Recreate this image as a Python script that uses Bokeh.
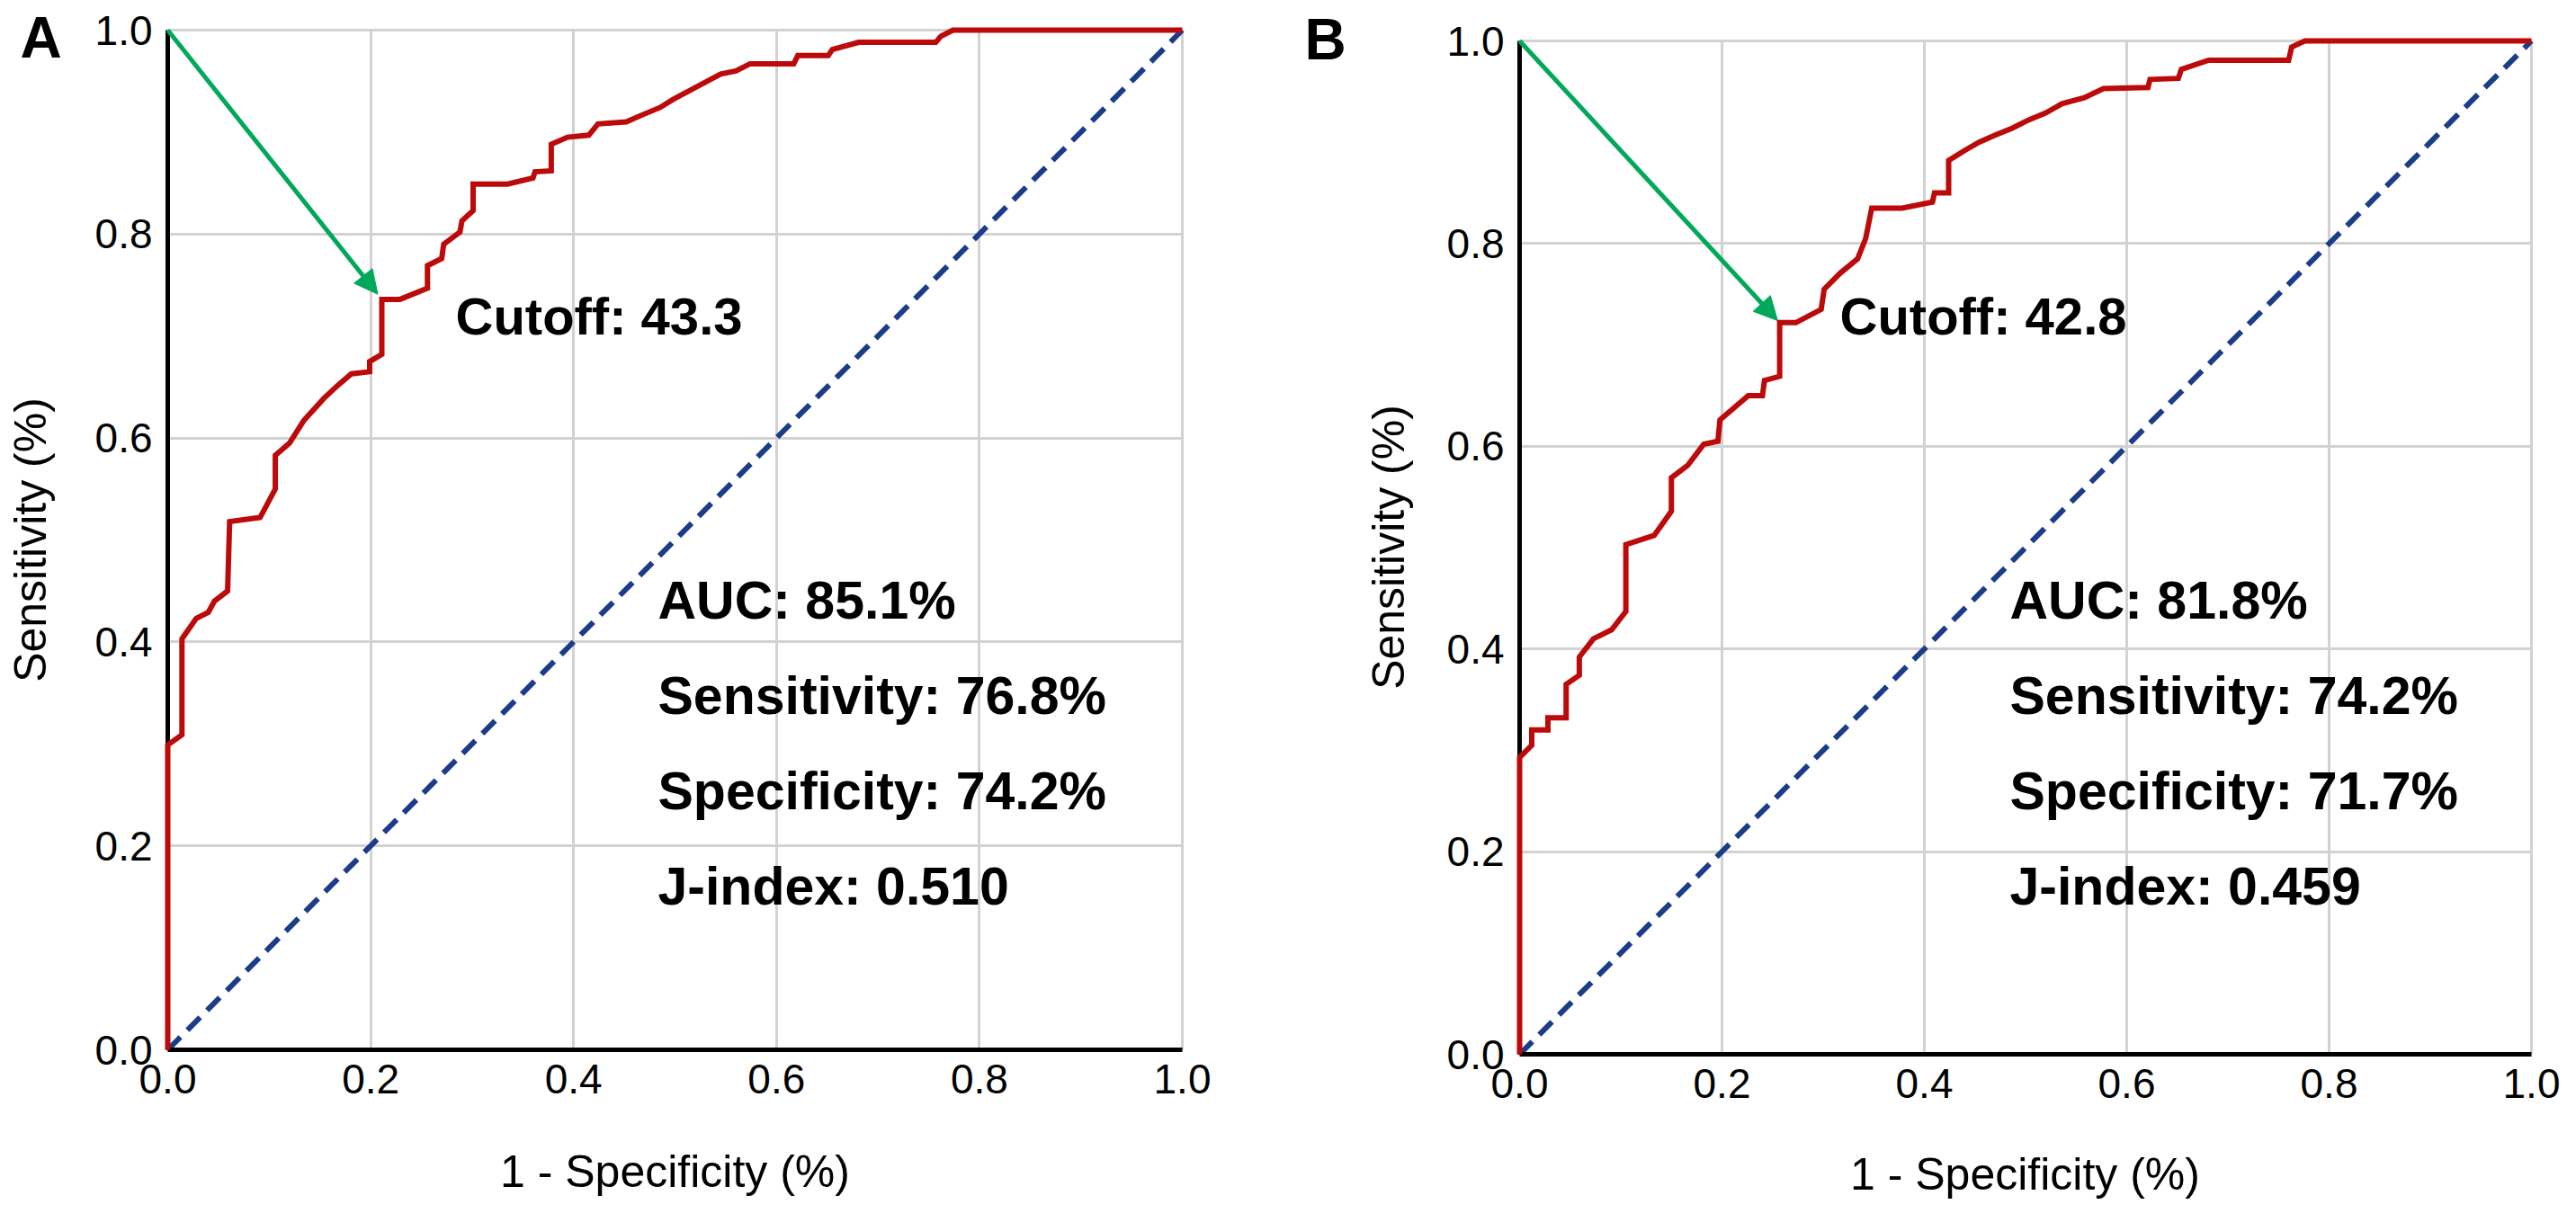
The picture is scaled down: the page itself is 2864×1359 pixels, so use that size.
import math
from bokeh.plotting import figure
from bokeh.models import Range1d, FixedTicker, Arrow, NormalHead, PrintfTickFormatter, Grid
from bokeh.layouts import row
from bokeh.embed import file_html
from bokeh.resources import INLINE
from bokeh.core.properties import value

# ---------------- data ----------------
TICKS = [0.0, 0.2, 0.4, 0.6, 0.8, 1.0]

a_fpr = [0.0, 0.0, 0.014, 0.014, 0.028, 0.040, 0.046, 0.059, 0.061, 0.091, 0.106, 0.106,
         0.120, 0.134, 0.154, 0.168, 0.181, 0.199, 0.199, 0.211, 0.211, 0.229, 0.256, 0.256,
         0.270, 0.272, 0.288, 0.290, 0.301, 0.301, 0.335, 0.360, 0.362, 0.378, 0.378, 0.394,
         0.415, 0.424, 0.452, 0.468, 0.485, 0.498, 0.515, 0.532, 0.545, 0.560, 0.574, 0.617,
         0.621, 0.651, 0.655, 0.681, 0.757, 0.762, 0.774, 1.0]
a_tpr = [0.0, 0.299, 0.309, 0.403, 0.423, 0.429, 0.440, 0.450, 0.518, 0.522, 0.550, 0.583,
         0.595, 0.617, 0.639, 0.652, 0.663, 0.665, 0.675, 0.682, 0.736, 0.736, 0.747, 0.769,
         0.776, 0.790, 0.802, 0.813, 0.823, 0.849, 0.849, 0.855, 0.861, 0.862, 0.888, 0.895,
         0.897, 0.908, 0.910, 0.917, 0.924, 0.932, 0.941, 0.950, 0.957, 0.960, 0.967, 0.967,
         0.975, 0.975, 0.981, 0.988, 0.988, 0.994, 1.0, 1.0]

b_fpr = [0.0, 0.0, 0.012, 0.012, 0.028, 0.028, 0.046, 0.046, 0.059, 0.059, 0.073, 0.091,
         0.105, 0.105, 0.133, 0.150, 0.150, 0.166, 0.182, 0.196, 0.198, 0.226, 0.240, 0.242,
         0.257, 0.257, 0.273, 0.298, 0.301, 0.317, 0.334, 0.342, 0.348, 0.378, 0.408, 0.410,
         0.424, 0.424, 0.440, 0.454, 0.470, 0.487, 0.503, 0.520, 0.536, 0.558, 0.577, 0.621,
         0.623, 0.651, 0.654, 0.681, 0.760, 0.763, 0.776, 1.0]
b_tpr = [0.0, 0.293, 0.305, 0.320, 0.320, 0.332, 0.332, 0.365, 0.374, 0.392, 0.410, 0.419,
         0.437, 0.503, 0.512, 0.536, 0.569, 0.581, 0.602, 0.605, 0.626, 0.650, 0.650, 0.665,
         0.669, 0.722, 0.722, 0.735, 0.755, 0.771, 0.785, 0.805, 0.835, 0.835, 0.841, 0.850,
         0.850, 0.882, 0.892, 0.900, 0.907, 0.914, 0.922, 0.929, 0.938, 0.944, 0.953, 0.954,
         0.962, 0.963, 0.972, 0.981, 0.981, 0.994, 1.0, 1.0]

ref_x = [0.0, 1.0]
ref_y = [0.0, 1.0]

a_cut_point = (0.207, 0.741)
b_cut_point = (0.255, 0.724)

a_cutoff = "Cutoff: 43.3"
b_cutoff = "Cutoff: 42.8"
a_stats = ["AUC: 85.1%", "Sensitivity: 76.8%", "Specificity: 74.2%", "J-index: 0.510"]
b_stats = ["AUC: 81.8%", "Sensitivity: 74.2%", "Specificity: 71.7%", "J-index: 0.459"]

X_TITLE = "1 - Specificity (%)"
Y_TITLE = "Sensitivity (%)"

# ---------------- style ----------------
FONT = "Liberation Sans"
RED = "#BC0A0A"
NAVY = "#1B3C8A"
GREEN = "#00A859"
GRID = "#D2D2D2"
PAGE_H = 1359
MID = 0.35   # baseline-to-middle distance, in em


def make_panel(fpr, tpr, cut_point, cutoff_text, stats, letter, geo, txt):
    left, width, X0, Y0, SX, SY = geo

    def dx(px):
        return (px - X0) / SX

    def dy(py):
        return (Y0 - py) / SY

    p = figure(width=width, height=PAGE_H,
               x_range=Range1d(dx(left), dx(left + width)),
               y_range=Range1d(dy(PAGE_H), dy(0)),
               min_border_left=0, min_border_right=0,
               min_border_top=0, min_border_bottom=0,
               output_backend="svg", toolbar_location=None, title=None)
    p.outline_line_color = None
    p.background_fill_color = "white"
    p.border_fill_color = "white"

    for ax in (p.xaxis[0], p.yaxis[0]):
        ax.fixed_location = 0
        ax.bounds = (0, 1)
        ax.ticker = FixedTicker(ticks=TICKS)
        ax.formatter = PrintfTickFormatter(format="%.1f")
        ax.axis_line_color = "black"
        ax.axis_line_width = 5
        ax.major_tick_line_color = None
        ax.minor_tick_line_color = None
        ax.major_tick_out = 0
        ax.major_tick_in = 0
        ax.minor_tick_out = 0
        ax.major_label_text_font = FONT
        ax.major_label_text_font_size = "46px"
        ax.major_label_text_color = "black"
    p.xaxis.major_label_standoff = 16
    p.yaxis.major_label_standoff = 17

    if "cross_bounds" in Grid.properties():
        p.grid.bounds = (0, 1)
        p.grid.cross_bounds = (0, 1)
        p.grid.grid_line_color = GRID
        p.grid.grid_line_width = 3
    else:
        p.grid.visible = False
        p.segment(x0=TICKS, y0=[0.0] * len(TICKS), x1=TICKS, y1=[1.0] * len(TICKS),
                  line_color=GRID, line_width=3, level="underlay")
        p.segment(x0=[0.0] * len(TICKS), y0=TICKS, x1=[1.0] * len(TICKS), y1=TICKS,
                  line_color=GRID, line_width=3, level="underlay")

    p.line(ref_x, ref_y, line_color=NAVY, line_width=6, line_dash="20 11")
    r = p.line(fpr, tpr, line_color=RED, line_width=6, line_join="miter")
    r.level = "overlay"

    p.add_layout(Arrow(end=NormalHead(size=26, fill_color=GREEN, line_color=GREEN, line_width=1),
                       x_start=0.0, y_start=1.0, x_end=cut_point[0], y_end=cut_point[1],
                       line_color=GREEN, line_width=5))

    def btext(px, baselines, texts, size, bold=True, align="left"):
        p.text(x=[dx(px)] * len(texts), y=[dy(b - MID * size) for b in baselines], text=texts,
               text_font=value(FONT), text_font_style="bold" if bold else "normal",
               text_font_size=f"{size}px", text_color="black",
               text_align=align, text_baseline="middle")

    btext(txt["cut"][0], [txt["cut"][1]], [cutoff_text], 58)
    btext(txt["stats"][0], txt["stats"][1], stats, 59)
    btext(txt["letter"][0], [txt["letter"][1]], [letter], 64)
    btext(txt["xtitle"][0], [txt["xtitle"][1]], [X_TITLE], 50, bold=False, align="center")
    p.text(x=[dx(txt["ytitle"][0])], y=[dy(txt["ytitle"][1])], text=[Y_TITLE],
           angle=math.pi / 2, text_font=value(FONT), text_font_size="50px",
           text_color="black", text_align="center", text_baseline="middle")
    return p


# geometry: canvas page-left, canvas width, page x of data 0, page y of data 0, px per unit x, y
geoA = (0, 1428, 186, 1167, 1128, 1134)
geoB = (1428, 1436, 1689, 1172, 1125, 1127)

ROWS = [688, 794, 900, 1006]
txtA = dict(cut=(506, 371), stats=(731, ROWS), letter=(22, 64),
            xtitle=(750, 1320), ytitle=(33, 600))
txtB = dict(cut=(2045, 371), stats=(2234, ROWS), letter=(1450, 66),
            xtitle=(2251, 1323), ytitle=(1543, 608))

pA = make_panel(a_fpr, a_tpr, a_cut_point, a_cutoff, a_stats, "A", geoA, txtA)
pB = make_panel(b_fpr, b_tpr, b_cut_point, b_cutoff, b_stats, "B", geoB, txtB)

layout = row(pA, pB, spacing=0)
open("out.html", "w").write(file_html(layout, INLINE))
